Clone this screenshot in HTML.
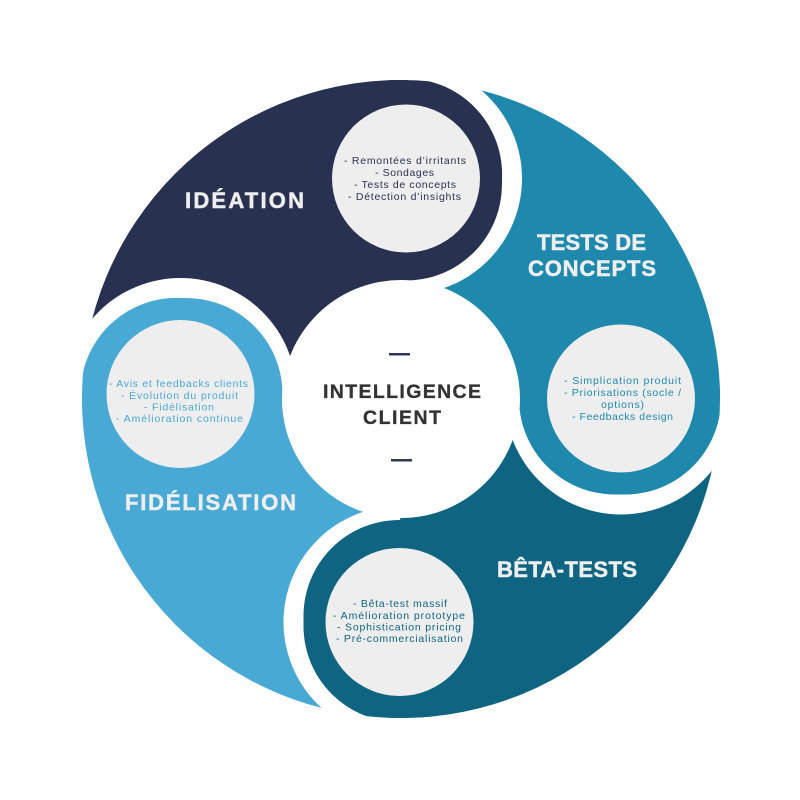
<!DOCTYPE html>
<html><head><meta charset="utf-8"><style>
html,body{margin:0;padding:0;background:#fff;width:800px;height:800px;overflow:hidden;}
svg{display:block;}
text{font-family:"Liberation Sans",Arial,sans-serif;}
.t{font-weight:bold;font-size:22px;fill:#eeeeee;stroke:#eeeeee;stroke-width:0.5;}
.s{font-size:10.5px;}
</style></head><body>
<svg width="800" height="800" viewBox="0 0 800 800" xmlns="http://www.w3.org/2000/svg">
<defs>
<clipPath id="outer"><circle cx="401" cy="399" r="319"/></clipPath>
<clipPath id="pT"><polygon points="401,399 410,0 800,0 800,398"/></clipPath>
<clipPath id="pB"><polygon points="401,399 800,398 800,800 398,800"/></clipPath>
<clipPath id="pF"><polygon points="401,399 398,800 0,800 0,390"/></clipPath>
<clipPath id="pI"><polygon points="401,399 0,390 0,0 410,0"/></clipPath>
</defs>
<rect width="800" height="800" fill="#fff"/>
<g clip-path="url(#outer)">
<polygon fill="#1e88ad" points="401,399 410,0 800,0 800,398"/>
<polygon fill="#0e6481" points="401,399 800,398 800,800 398,800"/>
<polygon fill="#48a9d4" points="401,399 398,800 0,800 0,390"/>
<polygon fill="#293151" points="401,399 0,390 0,0 410,0"/>
</g>
<circle cx="406" cy="178.5" r="116" fill="#fff" clip-path="url(#pT)"/>
<circle cx="621" cy="398.5" r="116" fill="#fff" clip-path="url(#pB)"/>
<circle cx="399.5" cy="622" r="116" fill="#fff" clip-path="url(#pF)"/>
<circle cx="180.5" cy="394" r="116" fill="#fff" clip-path="url(#pI)"/>

<!-- fillets toward center -->
<circle cx="405.9" cy="184.5" r="96" fill="#293151"/>
<circle cx="615" cy="398.5" r="96" fill="#1e88ad"/>
<circle cx="399.5" cy="616" r="96" fill="#0e6481"/>
<circle cx="186.5" cy="394.1" r="96" fill="#48a9d4"/>
<!-- fillets toward outer edge -->
<g clip-path="url(#outer)">
<circle cx="406.1" cy="174.5" r="96" fill="#293151"/>
<circle cx="625" cy="398.5" r="96" fill="#1e88ad"/>
<circle cx="399.5" cy="626" r="96" fill="#0e6481"/>
<circle cx="176.5" cy="393.9" r="96" fill="#48a9d4"/>
</g>

<circle cx="406" cy="178.5" r="96" fill="#293151"/>
<circle cx="621" cy="398.5" r="96" fill="#1e88ad"/>
<circle cx="399.5" cy="622" r="96" fill="#0e6481"/>
<circle cx="180.5" cy="394" r="96" fill="#48a9d4"/>

<circle cx="406" cy="178.5" r="74" fill="#eeeeee"/>
<circle cx="621" cy="398.5" r="74" fill="#eeeeee"/>
<circle cx="399.5" cy="622" r="74" fill="#eeeeee"/>
<circle cx="180.5" cy="394" r="74" fill="#eeeeee"/>

<circle cx="401" cy="399" r="119" fill="#fff"/>

<rect x="389" y="353" width="21" height="2.5" fill="#2d3656"/>
<rect x="391" y="459" width="21" height="2.5" fill="#2d3656"/>

<text class="t" x="185" y="208" textLength="119" lengthAdjust="spacing">IDÉATION</text>
<text class="t" x="537" y="250" textLength="109" lengthAdjust="spacing">TESTS DE</text>
<text class="t" x="528" y="276" textLength="128" lengthAdjust="spacing">CONCEPTS</text>
<text class="t" x="497" y="577" textLength="140" lengthAdjust="spacing">BÊTA-TESTS</text>
<text class="t" x="125" y="510" textLength="171" lengthAdjust="spacing">FIDÉLISATION</text>

<text x="323" y="398" font-size="19.5" font-weight="bold" fill="#333333" stroke="#333333" stroke-width="0.3" textLength="158" lengthAdjust="spacing">INTELLIGENCE</text>
<text x="363" y="424" font-size="19.5" font-weight="bold" fill="#333333" stroke="#333333" stroke-width="0.3" textLength="78" lengthAdjust="spacing">CLIENT</text>

<g class="s" fill="#2a3250">
<text x="344" y="164" textLength="122" lengthAdjust="spacing">- Remontées d’irritants</text>
<text x="375" y="176" textLength="59" lengthAdjust="spacing">- Sondages</text>
<text x="354" y="188" textLength="102" lengthAdjust="spacing">- Tests de concepts</text>
<text x="348" y="200" textLength="113" lengthAdjust="spacing">- Détection d’insights</text>
</g>
<g class="s" fill="#1e88ad">
<text x="564" y="384" textLength="117" lengthAdjust="spacing">- Simplication produit</text>
<text x="564" y="396" textLength="117" lengthAdjust="spacing">- Priorisations (socle /</text>
<text x="601" y="408" textLength="43" lengthAdjust="spacing">options)</text>
<text x="572" y="420" textLength="101" lengthAdjust="spacing">- Feedbacks design</text>
</g>
<g class="s" fill="#0e6481">
<text x="353" y="607" textLength="94" lengthAdjust="spacing">- Bêta-test massif</text>
<text x="333" y="619" textLength="132" lengthAdjust="spacing">- Amélioration prototype</text>
<text x="337" y="630.5" textLength="124" lengthAdjust="spacing">- Sophistication pricing</text>
<text x="336" y="642" textLength="127" lengthAdjust="spacing">- Pré-commercialisation</text>
</g>
<g class="s" fill="#48a9d4">
<text x="109" y="387" textLength="139" lengthAdjust="spacing">- Avis et feedbacks clients</text>
<text x="121" y="399" textLength="117" lengthAdjust="spacing">- Évolution du produit</text>
<text x="144" y="410.5" textLength="70" lengthAdjust="spacing">- Fidélisation</text>
<text x="116" y="422" textLength="127" lengthAdjust="spacing">- Amélioration continue</text>
</g>
</svg>
</body></html>
